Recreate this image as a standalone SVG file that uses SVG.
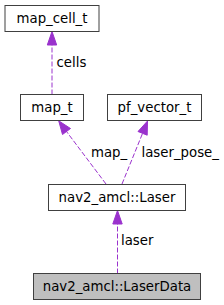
<svg xmlns="http://www.w3.org/2000/svg" width="224" height="305" viewBox="0 0 224 305">
<style>
.box{fill:#ffffff;stroke:#404040;stroke-width:1}
.root{fill:#bfbfbf;stroke:#404040;stroke-width:1}
.lbl{font-family:"DejaVu Sans",sans-serif;font-size:13.3px;fill:#000000}
.mid{text-anchor:middle}
.edge{fill:none;stroke:#9a32cd;stroke-width:1;stroke-dasharray:5,2}
.head{fill:#9a32cd;stroke:#9a32cd;stroke-width:1}
</style>
<rect width="224" height="305" fill="#ffffff"/>
<g id="connectors">
  <g id="e-cells">
    <line class="edge" x1="52" y1="94.5" x2="52" y2="45"/>
    <polygon class="head" points="52,31.5 56.7,45 47.3,45"/>
    <text class="lbl" x="56.5" y="66.5">cells</text>
  </g>
  <g id="e-map">
    <line class="edge" x1="106" y1="184" x2="66.5" y2="131.5"/>
    <polygon class="head" points="58.7,120.8 70.5,128.5 62.5,134.5"/>
    <text class="lbl" x="91" y="156.7">map_</text>
  </g>
  <g id="e-pose">
    <line class="edge" x1="122" y1="184" x2="142.5" y2="133.5"/>
    <polygon class="head" points="147.5,121 147.2,135.2 138,131.5"/>
    <text class="lbl" x="141.5" y="156.7">laser_pose_</text>
  </g>
  <g id="e-laser">
    <line class="edge" x1="117.5" y1="273.5" x2="117.5" y2="224"/>
    <polygon class="head" points="117.5,210.5 122.2,224 112.8,224"/>
    <text class="lbl" x="121" y="245">laser</text>
  </g>
</g>
<g id="map_cell_t">
  <rect class="box" x="5" y="5.5" width="94" height="26"/>
  <text class="lbl mid" x="52" y="23">map_cell_t</text>
</g>
<g id="map_t">
  <rect class="box" x="20.5" y="94.5" width="63" height="26"/>
  <text class="lbl mid" x="52" y="112">map_t</text>
</g>
<g id="pf_vector_t">
  <rect class="box" x="107.5" y="94.5" width="94" height="26"/>
  <text class="lbl mid" x="154.5" y="112">pf_vector_t</text>
</g>
<g id="Laser">
  <rect class="box" x="48.5" y="184.5" width="137" height="26"/>
  <text class="lbl mid" x="117" y="202">nav2_amcl::Laser</text>
</g>
<g id="LaserData">
  <rect class="root" x="33.5" y="273.5" width="167" height="26"/>
  <text class="lbl mid" x="117" y="291">nav2_amcl::LaserData</text>
</g>
</svg>
